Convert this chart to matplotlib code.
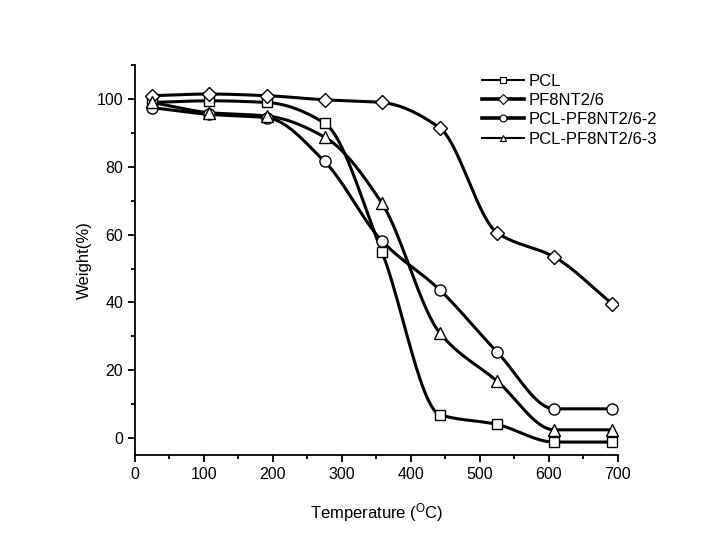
import matplotlib
matplotlib.use('agg')
import matplotlib.pyplot as plt
from matplotlib.ticker import MultipleLocator
import numpy as np

plt.rcParams['font.family'] = ['Liberation Sans', 'DejaVu Sans']

# temperature points (deg C) and weight (%)
temp = [25, 108, 192, 275, 358, 442, 525, 608, 692]
pcl = [99.0, 99.5, 99.0, 92.9, 55.0, 6.9, 4.0, -1.2, -1.2]
pf8nt = [101.0, 101.5, 101.0, 99.8, 99.0, 91.5, 60.6, 53.4, 39.6]
blend2 = [97.5, 95.5, 94.5, 81.6, 58.2, 43.7, 25.4, 8.6, 8.6]
blend3 = [99.0, 96.0, 95.0, 88.8, 69.3, 31.0, 16.8, 2.4, 2.4]

labels = ['PCL', 'PF8NT2/6', 'PCL-PF8NT2/6-2', 'PCL-PF8NT2/6-3']
markers = ['s', 'D', 'o', '^']
msizes = [7.5, 7.5, 8, 8.5]
leg_lw = [1.5, 2.6, 2.6, 1.5]


def smooth(x, y, n=400):
    # monotone cubic hermite so the line passes through every point (like Origin's spline connect)
    x = np.asarray(x, float)
    y = np.asarray(y, float)
    h = np.diff(x)
    d = np.diff(y) / h
    m = np.zeros_like(y)
    m[0], m[-1] = d[0], d[-1]
    for k in range(1, len(x) - 1):
        if d[k - 1] * d[k] > 0:
            w1 = 2 * h[k] + h[k - 1]
            w2 = h[k] + 2 * h[k - 1]
            m[k] = (w1 + w2) / (w1 / d[k - 1] + w2 / d[k])
    xs = np.linspace(x[0], x[-1], n)
    idx = np.clip(np.searchsorted(x, xs) - 1, 0, len(x) - 2)
    t = (xs - x[idx]) / h[idx]
    h00 = 2 * t**3 - 3 * t**2 + 1
    h10 = t**3 - 2 * t**2 + t
    h01 = -2 * t**3 + 3 * t**2
    h11 = t**3 - t**2
    ys = h00 * y[idx] + h10 * h[idx] * m[idx] + h01 * y[idx + 1] + h11 * h[idx] * m[idx + 1]
    return xs, ys


fig = plt.figure(figsize=(7.06, 5.39), dpi=100)
ax = fig.add_axes([0.191, 0.156, 0.684, 0.723])

for ys, lab, mk, ms, llw in zip([pcl, pf8nt, blend2, blend3], labels, markers, msizes, leg_lw):
    xs, yy = smooth(temp, ys)
    ax.plot(xs, yy, color='black', lw=2.2, zorder=2)
    ax.plot(temp, ys, linestyle='none', marker=mk, ms=ms, mfc='white', mec='black',
            mew=1.0, zorder=3)
    # proxy for legend
    ax.plot([], [], color='black', lw=llw, marker=mk, ms=5, mfc='white',
            mec='black', mew=0.8, label=lab)

ax.set_xlim(0, 700)
ax.set_ylim(-5, 110)
ax.xaxis.set_major_locator(MultipleLocator(100))
ax.xaxis.set_minor_locator(MultipleLocator(50))
ax.yaxis.set_major_locator(MultipleLocator(20))
ax.yaxis.set_minor_locator(MultipleLocator(10))
ax.tick_params(which='major', direction='out', length=5, width=1.3, labelsize=11.5)
ax.tick_params(which='minor', direction='out', length=3, width=1.3)
for s in ['top', 'right']:
    ax.spines[s].set_visible(False)
for s in ['left', 'bottom']:
    ax.spines[s].set_linewidth(1.3)

ax.set_xlabel(r'Temperature ($\mathregular{^{O}}$C)', fontsize=12, labelpad=14)
ax.set_ylabel('Weight(%)', fontsize=12, labelpad=3)

ax.legend(loc='upper left', bbox_to_anchor=(0.702, 1.0), frameon=False, fontsize=12,
          handlelength=2.5, handletextpad=0.3, labelspacing=0.26, borderaxespad=0.1)

fig.savefig('out.png', dpi=100)
